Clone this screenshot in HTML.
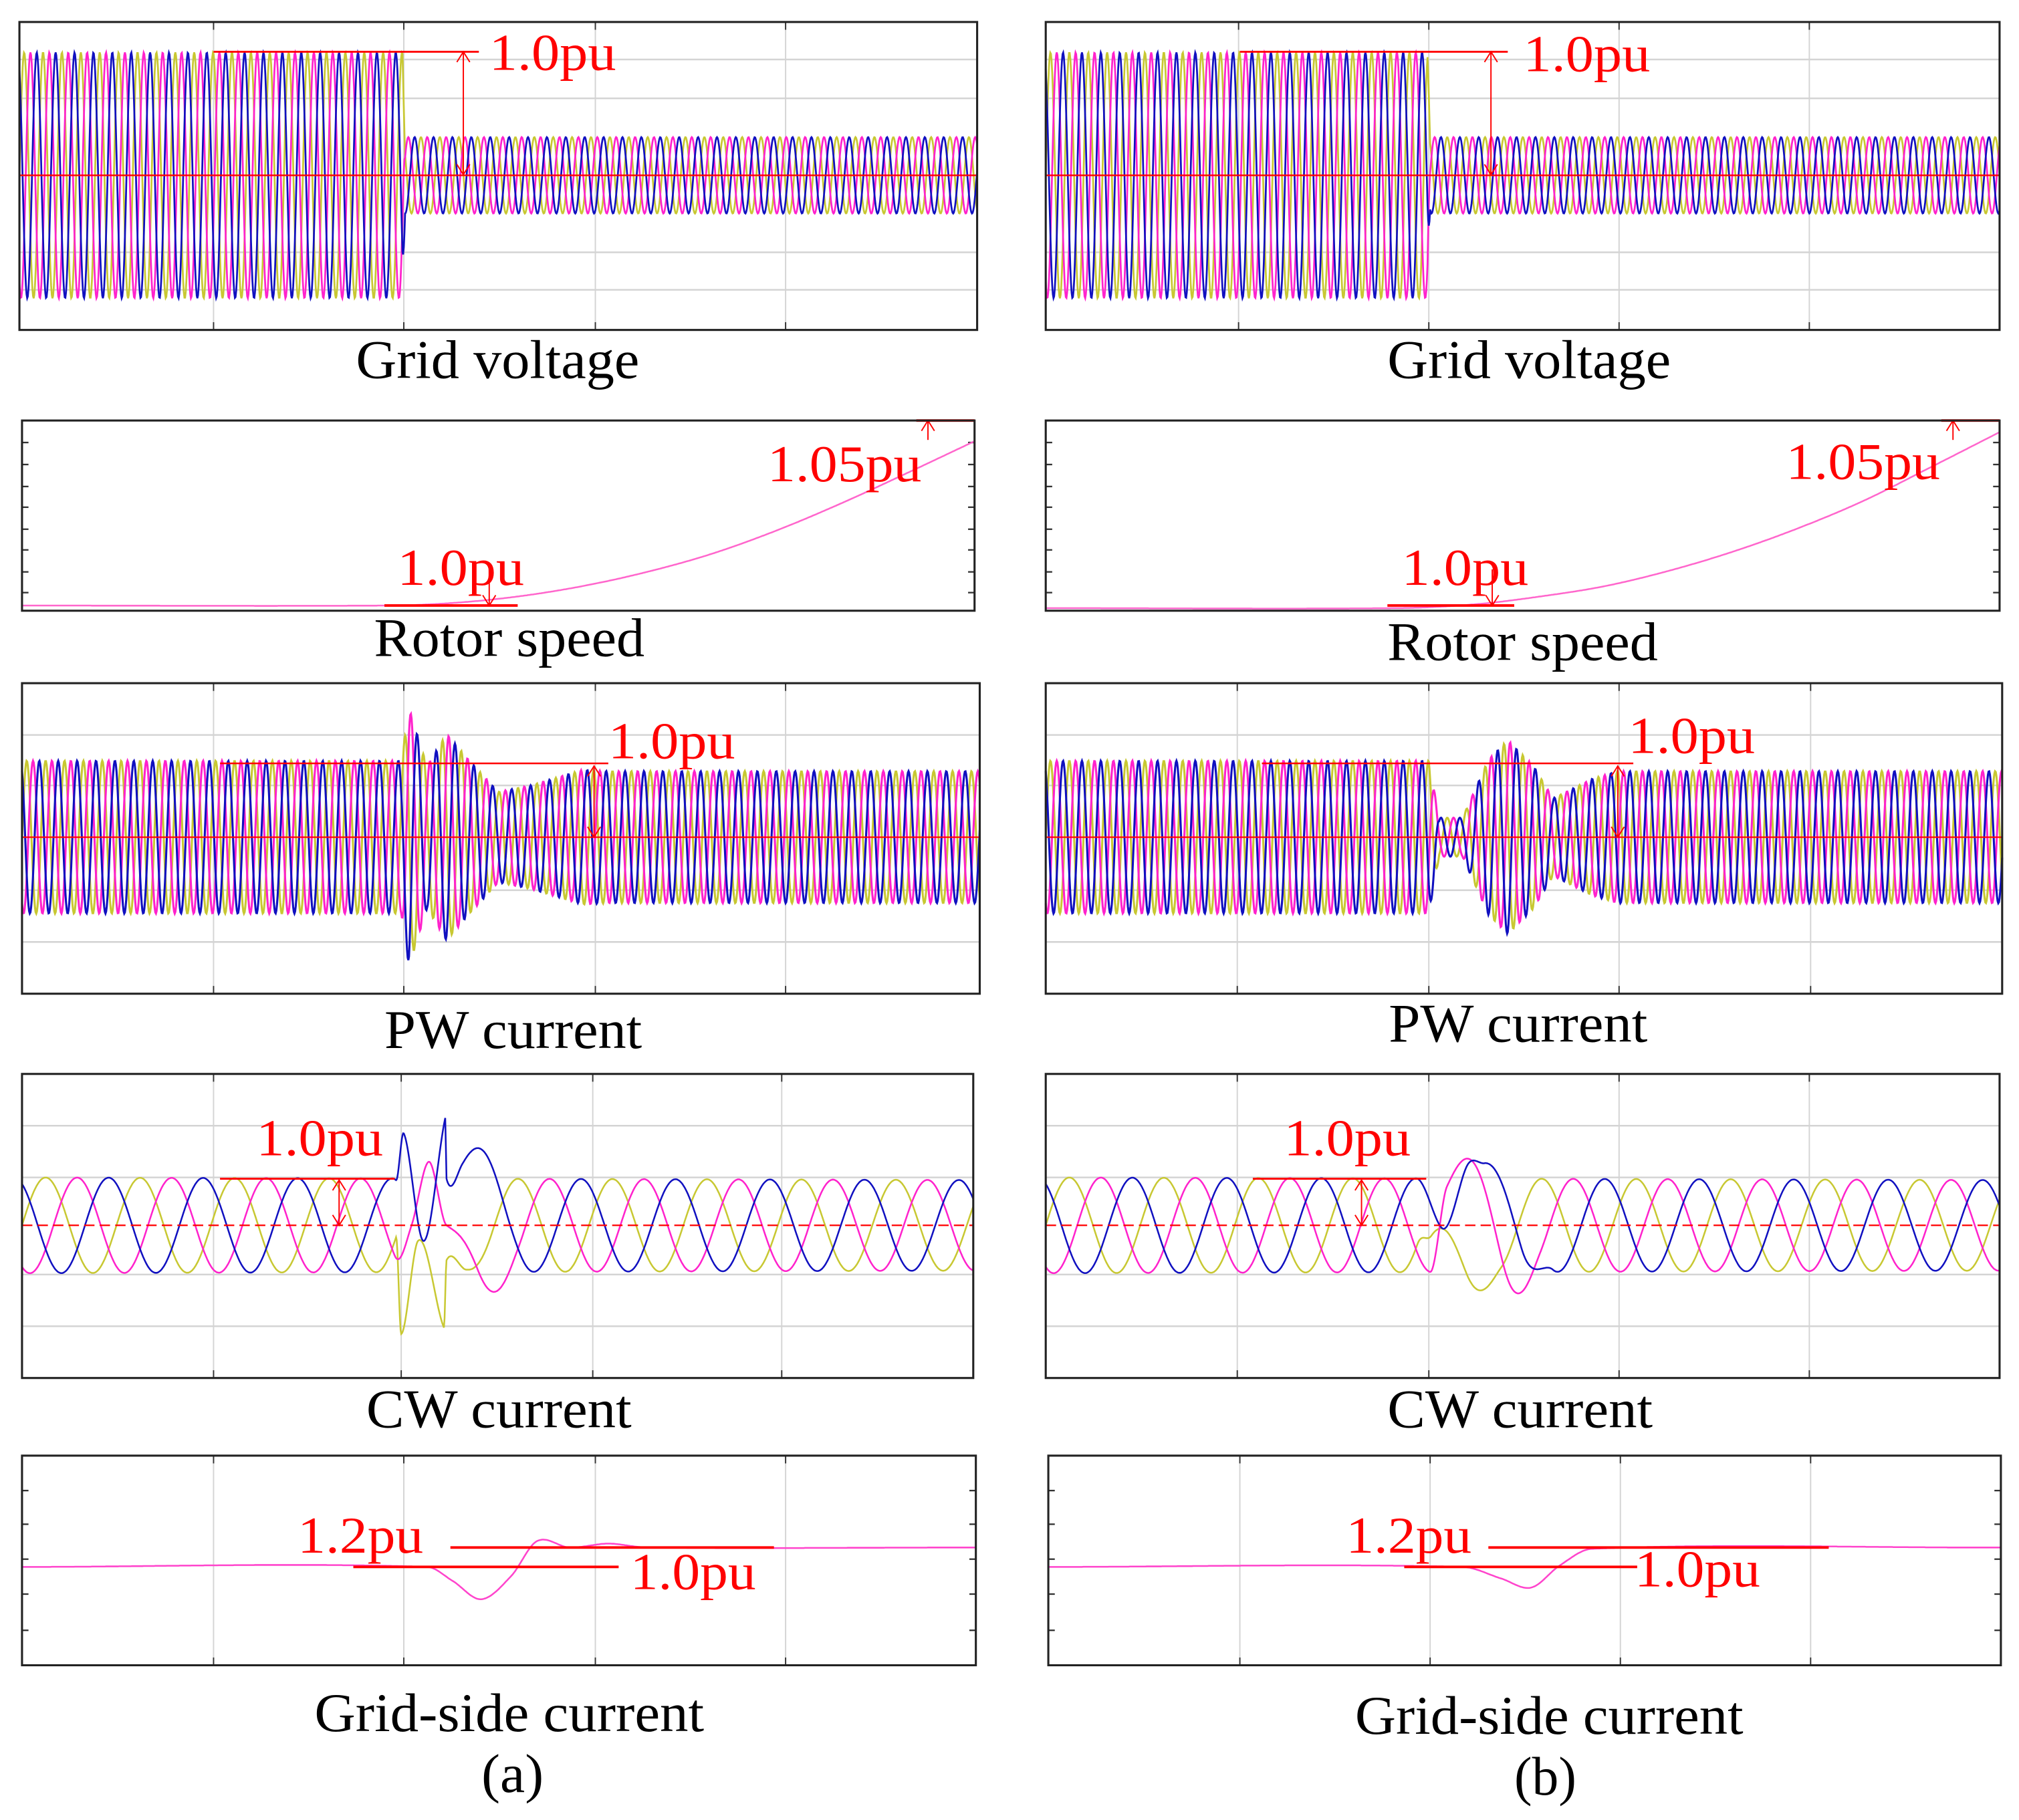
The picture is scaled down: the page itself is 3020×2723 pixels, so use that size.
<!DOCTYPE html>
<html><head><meta charset="utf-8"><title>BDFIG fault ride-through waveforms</title>
<style>html,body{margin:0;padding:0;background:#fff}svg{display:block}</style></head>
<body>
<svg id="fig" xmlns="http://www.w3.org/2000/svg" width="3020" height="2723" viewBox="0 0 1560 1406.6" font-family="'Liberation Serif', serif">
<rect width="1560" height="1406.6" fill="#fff"/>
<g id="plots"></g>
<g id="labels" font-size="42">
<text x="275" y="292" textLength="219" lengthAdjust="spacingAndGlyphs">Grid voltage</text>
<text x="289" y="507" textLength="209" lengthAdjust="spacingAndGlyphs">Rotor speed</text>
<text x="297" y="810" textLength="199" lengthAdjust="spacingAndGlyphs">PW current</text>
<text x="283" y="1103" textLength="205" lengthAdjust="spacingAndGlyphs">CW current</text>
<text x="243" y="1338" textLength="301" lengthAdjust="spacingAndGlyphs">Grid-side current</text>
<text x="372" y="1385" textLength="48" lengthAdjust="spacingAndGlyphs">(a)</text>
<text x="1072" y="292" textLength="219" lengthAdjust="spacingAndGlyphs">Grid voltage</text>
<text x="1072" y="510" textLength="209" lengthAdjust="spacingAndGlyphs">Rotor speed</text>
<text x="1073" y="805" textLength="200" lengthAdjust="spacingAndGlyphs">PW current</text>
<text x="1072" y="1103" textLength="205" lengthAdjust="spacingAndGlyphs">CW current</text>
<text x="1047" y="1340" textLength="300" lengthAdjust="spacingAndGlyphs">Grid-side current</text>
<text x="1170" y="1387" textLength="48" lengthAdjust="spacingAndGlyphs">(b)</text>
<g fill="#ff0000" font-size="40">
<text x="378" y="54" textLength="98" lengthAdjust="spacingAndGlyphs">1.0pu</text>
<text x="1177" y="55" textLength="98" lengthAdjust="spacingAndGlyphs">1.0pu</text>
<text x="593" y="372" textLength="119" lengthAdjust="spacingAndGlyphs">1.05pu</text>
<text x="307" y="452" textLength="98" lengthAdjust="spacingAndGlyphs">1.0pu</text>
<text x="1380" y="370" textLength="119" lengthAdjust="spacingAndGlyphs">1.05pu</text>
<text x="1083" y="452" textLength="98" lengthAdjust="spacingAndGlyphs">1.0pu</text>
<text x="470" y="586" textLength="98" lengthAdjust="spacingAndGlyphs">1.0pu</text>
<text x="1258" y="582" textLength="98" lengthAdjust="spacingAndGlyphs">1.0pu</text>
<text x="198" y="893" textLength="98" lengthAdjust="spacingAndGlyphs">1.0pu</text>
<text x="992" y="893" textLength="98" lengthAdjust="spacingAndGlyphs">1.0pu</text>
<text x="230" y="1200" textLength="97" lengthAdjust="spacingAndGlyphs">1.2pu</text>
<text x="487" y="1228" textLength="97" lengthAdjust="spacingAndGlyphs">1.0pu</text>
<text x="1040" y="1200" textLength="97" lengthAdjust="spacingAndGlyphs">1.2pu</text>
<text x="1263" y="1226" textLength="97" lengthAdjust="spacingAndGlyphs">1.0pu</text>
</g>
</g>
</svg>
<script>
// ---- data ----
const phaseColors = ["#c8c832", "#ff22cc", "#1010c0"];
// three-phase envelope keypoints (x, amplitude) per panel
const gvA_x = [15, 311, 313, 755];   const gvA_amp = [95, 95, 29.5, 29.5];
const gvB_x = [808, 1103, 1105, 1545]; const gvB_amp = [95, 95, 29.5, 29.5];
const pwA_x = [17, 310, 316, 330, 345, 362, 385, 410, 450, 470, 757];
const pwA_amp = [59, 59, 100, 55, 80, 60, 35, 40, 52, 51, 51];
const pwB_x = [808, 1104, 1112, 1130, 1150, 1165, 1185, 1200, 1230, 1250, 1547];
const pwB_amp = [59, 59, 15, 15, 60, 75, 55, 30, 45, 51, 51];
const cwA_x = [17, 752]; const cwA_amp = [37, 35];
const cwB_x = [808, 1545]; const cwB_amp = [37, 35];
// CW transient keypoints per phase (yellow, magenta, blue); first/last are anchors on the steady wave
const cwA_tr_x = [[306, 310, 323, 343, 345, 360, 380], [305, 318, 331, 345, 369, 400], [306, 312, 327, 344, 345, 357, 395]];
const cwA_tr_y = [[0, 1031, 959, 1026, 974, 0, 0], [0, 947, 898, 947, 981, 0], [0, 876, 959, 864, 911, 900, 0]];
const cwB_tr_x = [[1095, 1106, 1133, 1160], [1105, 1118, 1162, 1190], [1095, 1114, 1133, 1147, 1176, 1200]];
const cwB_tr_y = [[0, 955, 984, 0], [0, 917, 979, 0], [0, 949, 902, 899, 966, 0]];
// single-line traces (x, y)
const rsA_x = [17, 300, 350, 400, 450, 500, 550, 600, 650, 700, 753];
const rsA_y = [468, 468, 466, 461, 453, 442, 428, 410, 389, 366, 341];
const rsB_x = [808, 1080, 1140, 1190, 1240, 1290, 1340, 1390, 1440, 1490, 1545];
const rsB_y = [470, 470, 467, 461, 453, 441, 426, 408, 387, 362, 334];
const gsA_x = [17, 330, 350, 372, 395, 415, 440, 470, 500, 754];
const gsA_y = [1211, 1211, 1222, 1236, 1218, 1191, 1196, 1193, 1196, 1196];
const gsB_x = [810, 1130, 1160, 1183, 1205, 1230, 1546];
const gsB_y = [1211, 1211, 1220, 1227, 1210, 1197, 1196];

const NS = "http://www.w3.org/2000/svg";
const root = document.getElementById("plots");
function mk(tag, attrs, parent){const e=document.createElementNS(NS,tag);for(const k in attrs)e.setAttribute(k,attrs[k]);(parent||root).appendChild(e);return e;}
function interp(xs, ys, x){ if(x<=xs[0])return ys[0]; for(let i=1;i<xs.length;i++){ if(x<=xs[i]){const t=(x-xs[i-1])/(xs[i]-xs[i-1]);return ys[i-1]+t*(ys[i]-ys[i-1]);}} return ys[ys.length-1]; }
// cubic hermite in x (no loops); endTangent: one-sided slope at ends
function smoothY(xs, ys, x, endTangent){
  const n=xs.length; if(x<=xs[0])return ys[0]; if(x>=xs[n-1])return ys[n-1];
  let i=0; while(x>xs[i+1])i++;
  const dx=xs[i+1]-xs[i], t=(x-xs[i])/dx;
  const m=j=>{
    if(j===0) return endTangent?(ys[1]-ys[0])/(xs[1]-xs[0]):0;
    if(j===n-1) return endTangent?(ys[n-1]-ys[n-2])/(xs[n-1]-xs[n-2]):0;
    return (ys[j+1]-ys[j-1])/(xs[j+1]-xs[j-1]); };
  const m0=m(i)*dx, m1=m(i+1)*dx, t2=t*t, t3=t2*t;
  return (2*t3-3*t2+1)*ys[i]+(t3-2*t2+t)*m0+(-2*t3+3*t2)*ys[i+1]+(t3-t2)*m1;
}

function panel(name, x0, x1, y0, y1, vg, hg, ticks){
  const g = mk("g", {});
  
  
  vg.forEach(x=>mk("line",{x1:x,x2:x,y1:y0,y2:y1,stroke:"#d4d4d4","stroke-width":1},g));
  hg.forEach(y=>mk("line",{x1:x0,x2:x1,y1:y,y2:y,stroke:"#d4d4d4","stroke-width":1.3},g));
  if(ticks){ ticks.forEach(y=>{mk("line",{x1:x0,x2:x0+5,y1:y,y2:y,stroke:"#333","stroke-width":1.2},g);mk("line",{x1:x1-5,x2:x1,y1:y,y2:y,stroke:"#333","stroke-width":1.2},g);}); }
  vg.forEach(x=>{mk("line",{x1:x,x2:x,y1:y0,y2:y0+6,stroke:"#333","stroke-width":1},g);mk("line",{x1:x,x2:x,y1:y1-6,y2:y1,stroke:"#333","stroke-width":1},g);});
  return g;
}
function frame(g,x0,x1,y0,y1){ mk("rect",{x:x0,y:y0,width:x1-x0,height:y1-y0,fill:"none",stroke:"#222","stroke-width":1.6},g); }
function wave(g, xs, amps, cy, period, x0, x1, lw, trX, trY){
  for(let k=0;k<3;k++){
    const f=x=>cy-interp(xs,amps,x)*Math.sin(2*Math.PI*(x-x0)/period - k*2*Math.PI/3);
    let dX=null, dY=null;
    if(trX){
      dX=trX[k];
      dY=trY[k].map((y,i)=>(i===0||i===trY[k].length-1||y===0)?0:y-f(dX[i]));
    }
    let d="";
    for(let x=x0;x<=x1;x+=0.5){
      let y=f(x);
      if(dX && x>dX[0] && x<dX[dX.length-1]) y+=smoothY(dX,dY,x,false);
      d+=(d?"L":"M")+x.toFixed(1)+","+y.toFixed(1);
    }
    const p=mk("path",{d:d,fill:"none",stroke:phaseColors[k],"stroke-width":lw},g);
    
    
  }
}
function trace(g, xs, ys, color, lw){
  let d="";
  for(let x=xs[0];x<=xs[xs.length-1];x+=1){ d+=(d?"L":"M")+x+","+smoothY(xs,ys,x,true).toFixed(1); }
  const p=mk("path",{d:d,fill:"none",stroke:color,"stroke-width":lw},g);
  
  
}
function redline(g,xa,xb,y,w){ mk("line",{x1:xa,x2:xb,y1:y,y2:y,stroke:"#ff0000","stroke-width":w||1.5},g); }
function arrowV(g,x,ya,yb,single){ mk("line",{x1:x,x2:x,y1:ya,y2:yb,stroke:"#ff0000","stroke-width":1},g);
  let d=`M${x-5},${ya+8}L${x},${ya}L${x+5},${ya+8}`;
  if(single!=="top") d+=`M${x-5},${yb-8}L${x},${yb}L${x+5},${yb-8}`;
  if(single==="bottom") d=`M${x-5},${yb-8}L${x},${yb}L${x+5},${yb-8}`;
  mk("path",{d:d,fill:"none",stroke:"#ff0000","stroke-width":1},g); }

function column(isA){
  const gx0=isA?15:808, gx1=isA?755:1545;
  let g=panel(isA?"grid-voltage-plot-a":"grid-voltage-plot-b", gx0, gx1, 17, 255, isA?[165,312,460,607]:[957,1104,1251,1398], [46,76,195,224]);
  wave(g, isA?gvA_x:gvB_x, isA?gvA_amp:gvB_amp, 135.5, 14.6, gx0, gx1, 1.4);
  redline(g,gx0,gx1,135.5,1.2);
  redline(g,isA?165:958,isA?370:1165,40,1.5);
  arrowV(g,isA?358:1152,40,135);
  frame(g,gx0,gx1,17,255);
  const rx0=isA?17:808, rx1=isA?753:1545;
  g=panel(isA?"rotor-speed-plot-a":"rotor-speed-plot-b", rx0, rx1, 325, 472, [], [], [342,359,376,392,409,425,442,458]);
  trace(g, isA?rsA_x:rsB_x, isA?rsA_y:rsB_y, "#ff66cc", 1.3);
  redline(g,isA?297:1072,isA?400:1170,468,2);
  arrowV(g,isA?378:1153,440,468,"bottom");
  redline(g,isA?708:1500,rx1,325,2);
  arrowV(g,isA?717:1509,325,340,"top");
  frame(g,rx0,rx1,325,472);
  const px0=isA?17:808, px1=isA?757:1547;
  g=panel(isA?"pw-current-plot-a":"pw-current-plot-b", px0, px1, 528, 768, isA?[165,312,460,607]:[956,1104,1251,1399], [568,607,688,728]);
  wave(g, isA?pwA_x:pwB_x, isA?pwA_amp:pwB_amp, 647, 14.6, px0, px1, 1.6);
  redline(g,px0,px1,647,1.1);
  redline(g,isA?170:975,isA?470:1262,590,1.3);
  arrowV(g,isA?459:1250,592,647);
  frame(g,px0,px1,528,768);
  const cx0=isA?17:808, cx1=isA?752:1545;
  g=panel(isA?"cw-current-plot-a":"cw-current-plot-b", cx0, cx1, 830, 1065, isA?[165,310,458,604]:[956,1104,1251,1398], [870,910,985,1025]);
  wave(g, isA?cwA_x:cwB_x, isA?cwA_amp:cwB_amp, 947, 73, cx0, cx1, 1.3, isA?cwA_tr_x:cwB_tr_x, isA?cwA_tr_y:cwB_tr_y);
  mk("line",{x1:cx0,x2:cx1,y1:947,y2:947,stroke:"#ff0000","stroke-width":1.2,"stroke-dasharray":"8,4"},g);
  redline(g,isA?170:968,isA?305:1102,911,1.5);
  arrowV(g,isA?262:1052,912,947);
  frame(g,cx0,cx1,830,1065);
  const sx0=isA?17:810, sx1=isA?754:1546;
  g=panel(isA?"grid-side-current-plot-a":"grid-side-current-plot-b", sx0, sx1, 1125, 1287, isA?[165,312,460,607]:[958,1105,1252,1399], [], [1152,1178,1205,1232,1260]);
  trace(g, isA?gsA_x:gsB_x, isA?gsA_y:gsB_y, "#ff44cc", 1.3);
  redline(g,isA?348:1150,isA?598:1413,1196,2);
  redline(g,isA?273:1085,isA?478:1265,1211,2);
  frame(g,sx0,sx1,1125,1287);
}
column(true);
column(false);
document.getElementById("fig").appendChild(document.getElementById("labels"));
</script>
</body></html>
